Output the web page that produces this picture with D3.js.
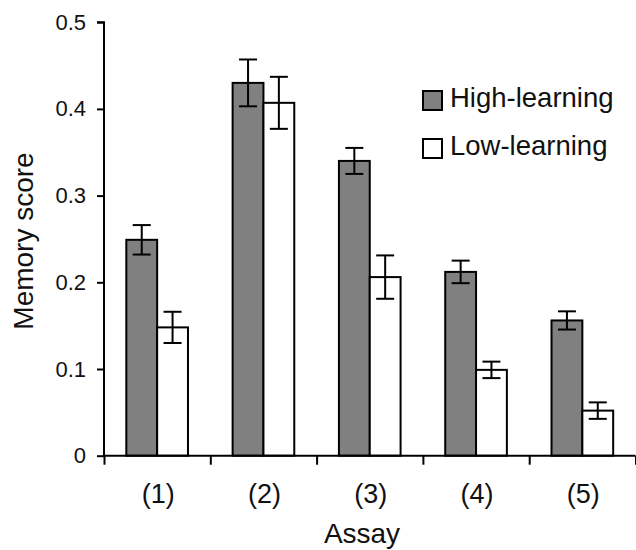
<!DOCTYPE html>
<html>
<head>
<meta charset="utf-8">
<script src="https://cdn.jsdelivr.net/npm/d3@7"></script>
<style>
  body { margin: 0; background: #fff; }
  text { font-family: "Liberation Sans", Arial, sans-serif; fill: #111; }
</style>
</head>
<body>
<div id="chart"></div>
<script>
var categories = ["(1)", "(2)", "(3)", "(4)", "(5)"];
var seriesNames = ["High-learning", "Low-learning"];
var highValues = [0.249, 0.430, 0.340, 0.212, 0.156];
var highErrors = [0.017, 0.027, 0.015, 0.013, 0.0105];
var lowValues = [0.148, 0.407, 0.206, 0.099, 0.052];
var lowErrors = [0.018, 0.030, 0.025, 0.0095, 0.0095];
var yTicks = [0, 0.1, 0.2, 0.3, 0.4, 0.5];

var width = 636, height = 550;
var margin = {left: 104, right: 0.5, top: 22.2, bottom: 94.3};
var fills = ["#808080", "#ffffff"];

let svg = d3.select("#chart")
  .append("svg")
  .attr("width", width)
  .attr("height", height);

var x0 = d3.scaleBand()
  .domain(categories)
  .range([margin.left, width - margin.right])
  .paddingInner(0.42)
  .paddingOuter(0.21);

var x1 = d3.scaleBand()
  .domain(seriesNames)
  .range([0, x0.bandwidth()]);

// boundaries between categories for the tick marks
var xEdges = d3.scaleLinear()
  .domain([0, categories.length])
  .range([margin.left, width - margin.right]);

var y = d3.scaleLinear()
  .domain([0, 0.5])
  .range([height - margin.bottom, margin.top]);

var rows = categories.map(function(c, i) {
  return [
    {cat: c, s: seriesNames[0], v: highValues[i], e: highErrors[i], fill: fills[0]},
    {cat: c, s: seriesNames[1], v: lowValues[i], e: lowErrors[i], fill: fills[1]}
  ];
});
var flat = rows.flat();

// bars
svg.append("g")
  .selectAll("rect")
  .data(flat)
  .enter()
  .append("rect")
  .attr("x", d => x0(d.cat) + x1(d.s))
  .attr("y", d => y(d.v))
  .attr("width", x1.bandwidth())
  .attr("height", d => y(0) - y(d.v))
  .attr("fill", d => d.fill)
  .attr("stroke", "#000")
  .attr("stroke-width", 2);

// error bars
var capHalf = 9;
let errs = svg.append("g")
  .attr("stroke", "#000")
  .attr("stroke-width", 2)
  .selectAll("g")
  .data(flat)
  .enter()
  .append("g");

errs.append("line")
  .attr("x1", d => x0(d.cat) + x1(d.s) + x1.bandwidth() / 2)
  .attr("x2", d => x0(d.cat) + x1(d.s) + x1.bandwidth() / 2)
  .attr("y1", d => y(d.v + d.e))
  .attr("y2", d => y(d.v - d.e));
errs.append("line")
  .attr("x1", d => x0(d.cat) + x1(d.s) + x1.bandwidth() / 2 - capHalf)
  .attr("x2", d => x0(d.cat) + x1(d.s) + x1.bandwidth() / 2 + capHalf)
  .attr("y1", d => y(d.v + d.e))
  .attr("y2", d => y(d.v + d.e));
errs.append("line")
  .attr("x1", d => x0(d.cat) + x1(d.s) + x1.bandwidth() / 2 - capHalf)
  .attr("x2", d => x0(d.cat) + x1(d.s) + x1.bandwidth() / 2 + capHalf)
  .attr("y1", d => y(d.v - d.e))
  .attr("y2", d => y(d.v - d.e));

// y axis
let yAxis = svg.append("g")
  .attr("transform", `translate(${margin.left},0)`)
  .call(d3.axisLeft(y).tickValues(yTicks).tickSize(7).tickPadding(11)
    .tickFormat(d => d === 0 ? "0" : d3.format(".1f")(d)));
yAxis.select(".domain").attr("stroke", "#000").attr("stroke-width", 2)
  .attr("d", `M-7,${y(0.5)}H0V${y(0)}`);
yAxis.selectAll(".tick line").attr("stroke", "#000").attr("stroke-width", 2);
yAxis.selectAll(".tick text")
  .style("font-family", "Liberation Sans, Arial, sans-serif")
  .style("font-size", "22px")
  .attr("fill", "#111");

// x axis
let xAxis = svg.append("g")
  .attr("transform", `translate(0,${y(0)})`)
  .call(d3.axisBottom(xEdges).tickValues(d3.range(categories.length + 1)).tickSize(9).tickFormat(""));
xAxis.select(".domain").attr("stroke", "#000").attr("stroke-width", 2)
  .attr("d", `M${margin.left},0H${width - margin.right}`);
xAxis.selectAll(".tick line").attr("stroke", "#000").attr("stroke-width", 2);

svg.append("g")
  .selectAll("text")
  .data(categories)
  .enter()
  .append("text")
  .attr("x", d => x0(d) + x0.bandwidth() / 2 + 1)
  .attr("y", 502.6)
  .attr("text-anchor", "middle")
  .style("font-size", "27px")
  .text(d => d);

// axis titles
svg.append("text")
  .attr("x", 362)
  .attr("y", 543)
  .attr("text-anchor", "middle")
  .style("font-size", "28px")
  .text("Assay");

svg.append("text")
  .attr("transform", "translate(33,241) rotate(-90)")
  .attr("text-anchor", "middle")
  .style("font-size", "28px")
  .text("Memory score");

// legend
let legend = svg.append("g")
  .selectAll("g")
  .data(seriesNames)
  .enter()
  .append("g")
  .attr("transform", (d, i) => `translate(423,${91 + i * 48})`);
legend.append("rect")
  .attr("width", 19)
  .attr("height", 19)
  .attr("fill", (d, i) => fills[i])
  .attr("stroke", "#000")
  .attr("stroke-width", 2);
legend.append("text")
  .attr("x", 27)
  .attr("y", 15.5)
  .style("font-size", "27.5px")
  .text(d => d);
</script>
</body>
</html>
